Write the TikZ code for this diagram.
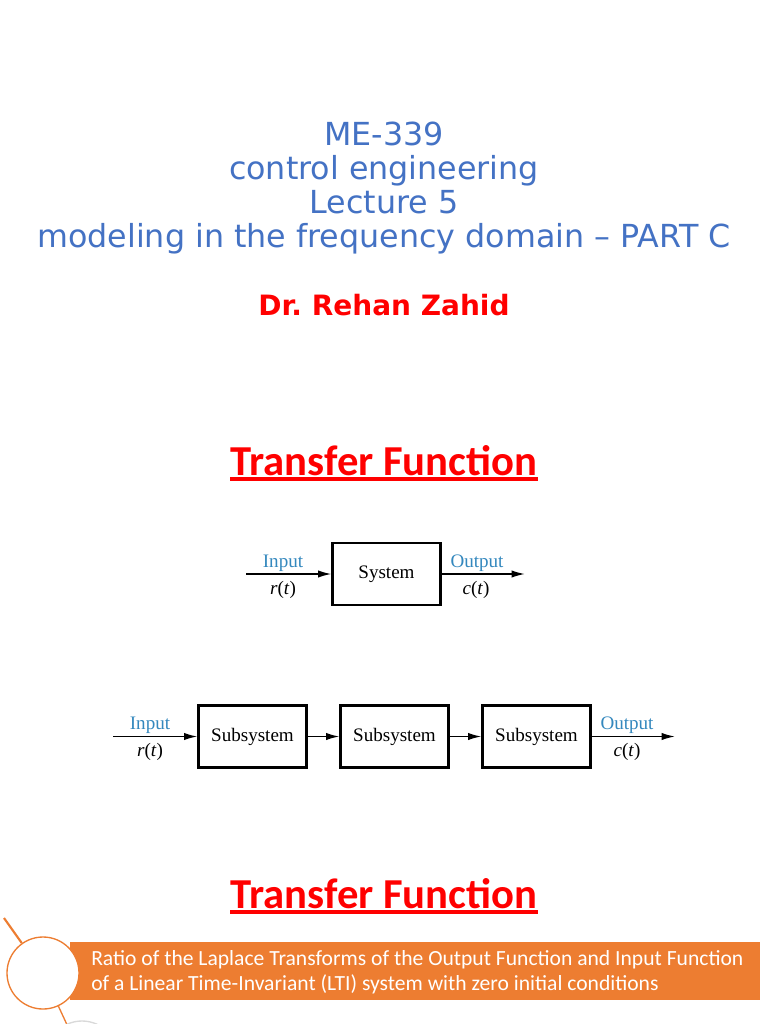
\documentclass[tikz,border=0pt]{standalone}
\usepackage{fontspec}
\setmainfont{Liberation Serif}
\newfontfamily\slidefont{DejaVu Sans}
\newfontfamily\calfont{Carlito}
\usetikzlibrary{arrows.meta}
\frenchspacing

\definecolor{titleblue}{RGB}{68,114,196}
\definecolor{accent}{RGB}{237,125,49}
\definecolor{labelblue}{RGB}{52,136,190}

\tikzset{
  title/.style={anchor=base, inner sep=0pt, text=titleblue,
    font=\slidefont\fontsize{23.8}{28}\selectfont},
  heading/.style={anchor=base, inner sep=0pt, text=red,
    font=\calfont\bfseries\fontsize{32}{38}\selectfont},
  uline/.style={red, line width=2.3pt},
  block/.style={draw, line width=1.6pt, minimum width=81pt, minimum height=46.5pt,
    inner sep=0pt, font=\fontsize{14.3}{16}\selectfont},
  signal/.style={line width=1.2pt, -{Latex[length=10pt,width=5.5pt]}},
  siglabel/.style={anchor=base, inner sep=0pt, font=\fontsize{14.3}{16}\selectfont},
  deftext/.style={anchor=base west, inner sep=0pt, text=white,
    font=\calfont\fontsize{16.2}{19}\selectfont}
}

\begin{document}
\begin{tikzpicture}[x=0.75pt, y=-0.75pt]
\useasboundingbox (0,0) rectangle (768,1024);
\fill[white] (0,0) rectangle (768,1024);
\clip (0,0) rectangle (768,1024);

% title block
\node[title] (course) at (384,145) {ME-339};
\node[title] (subject) at (384,179) {control engineering};
\node[title] (lecture) at (384,213) {Lecture 5};
\node[title] (topic) at (384,247) {modeling in the frequency domain – PART C};
\node[anchor=base, inner sep=0pt, text=red,
  font=\slidefont\bfseries\fontsize{21}{25}\selectfont] (author) at (384,315) {Dr. Rehan Zahid};

% first heading
\node[heading] (tf1) at (384,475) {Transfer Function};
\draw[uline] ([yshift=-3pt]tf1.base west) -- ([yshift=-3pt]tf1.base east);

% single system
\node[block] (sys) at (386.5,574) {System};
\coordinate (in1) at (246,574);
\coordinate (out1) at (525,574);
\draw[signal] (in1) -- (sys);
\draw[signal] (sys) -- (out1);
\node[siglabel, text=labelblue] (inlab1) at (283,567) {Input};
\node[siglabel] (r1) at (283,594) {\textit{r}(\textit{t})};
\node[siglabel, text=labelblue] (outlab1) at (477,567) {Output};
\node[siglabel] (c1) at (476,594) {\textit{c}(\textit{t})};

% cascade of subsystems
\node[block] (sub1) at (252.5,736.5) {Subsystem};
\node[block] (sub2) at (394.5,736.5) {Subsystem};
\node[block] (sub3) at (536.5,736.5) {Subsystem};
\coordinate (in2) at (113,736.5);
\coordinate (out2) at (675,736.5);
\draw[signal] (in2) -- (sub1);
\draw[signal] (sub1) -- (sub2);
\draw[signal] (sub2) -- (sub3);
\draw[signal] (sub3) -- (out2);
\node[siglabel, text=labelblue] (inlab2) at (150,729) {Input};
\node[siglabel] (r2) at (150,756) {\textit{r}(\textit{t})};
\node[siglabel, text=labelblue] (outlab2) at (627,729) {Output};
\node[siglabel] (c2) at (627,756) {\textit{c}(\textit{t})};

% second heading
\node[heading] (tf2) at (384,908) {Transfer Function};
\draw[uline] ([yshift=-3pt]tf2.base west) -- ([yshift=-3pt]tf2.base east);

% definition band
\fill[accent] (70,942) rectangle (760,1000);
\node[deftext] (def1) at (91,965) {Ratio of the Laplace Transforms of the Output Function and Input Function};
\node[deftext] (def2) at (91,990) {of a Linear Time-Invariant (LTI) system with zero initial conditions};

\coordinate (lead) at (4,918);
\node[circle, draw=gray!30, line width=1pt, minimum size=54pt, inner sep=0pt] (ring2) at (82,1057) {};
\node[circle, draw=accent, fill=white, line width=1pt, minimum size=54pt, inner sep=0pt] (ring) at (43,973) {};
\draw[accent, line width=1.6pt] (lead) -- (ring);
\draw[accent, line width=1pt] (ring) -- (ring2);
\end{tikzpicture}
\end{document}
